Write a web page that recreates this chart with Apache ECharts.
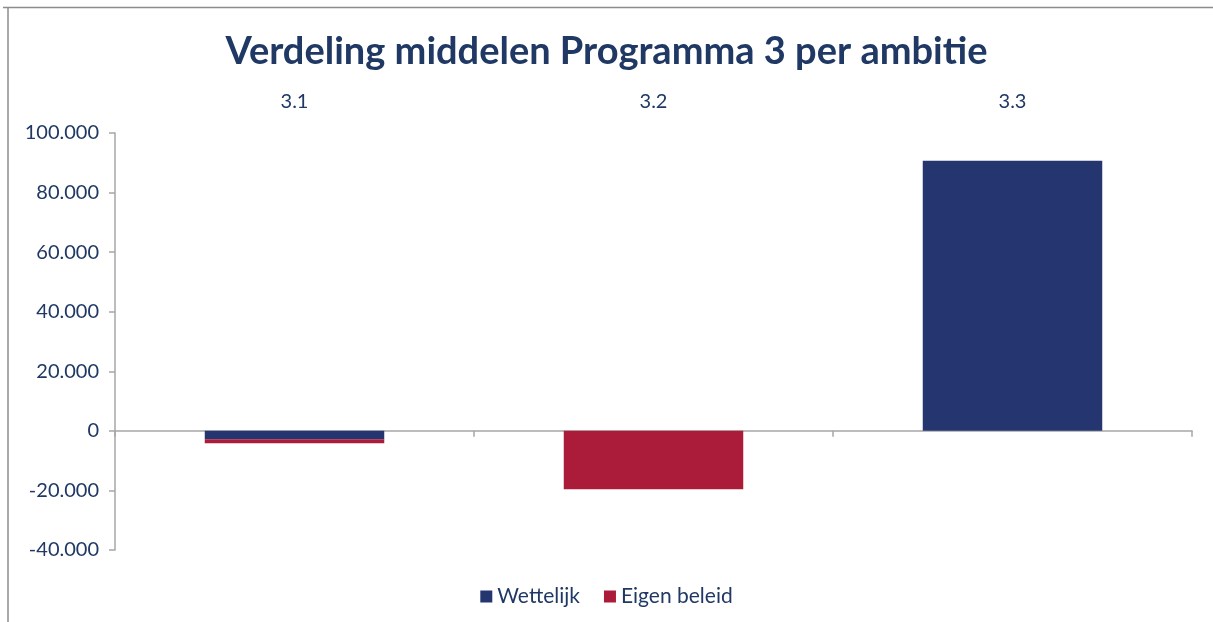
<!DOCTYPE html>
<html>
<head>
<meta charset="utf-8">
<script src="https://cdn.jsdelivr.net/npm/echarts@6/dist/echarts.min.js"></script>
<style>
  html, body { margin: 0; padding: 0; background: #fff; }
  #main { width: 1213px; height: 622px; }
</style>
</head>
<body>
<div id="main"></div>
<script>
// data
const categories = ['3.1', '3.2', '3.3'];
const wettelijk = [-2800, 0, 90700];
const eigenBeleid = [-1400, -19600, 0];
const yTicks = { min: -40000, max: 100000, interval: 20000 };

const navy = '#243570';
const red = '#AB1C3A';
const textColor = '#1F3864';

const chart = echarts.init(document.getElementById('main'));

// getal met punt als duizendtal-scheiding
const fmt = v => {
    const s = Math.abs(v).toString().replace(/\B(?=(\d{3})+(?!\d))/g, '.');
    return (v < 0 ? '-' : '') + s;
};

const option = {
    backgroundColor: '#fff',
    animation: false,
    title: {
        text: 'Verdeling middelen Programma 3 per ambitie',
        left: 'center',
        top: 28,
        textStyle: { fontFamily: 'Lato', fontWeight: 'bold', fontSize: 38, color: textColor }
    },
    legend: {
        bottom: 10,
        left: 'center',
        itemWidth: 12,
        itemHeight: 12,
        itemGap: 24,
        icon: 'rect',
        textStyle: { fontFamily: 'Lato', fontSize: 21, color: textColor },
        data: ['Wettelijk', 'Eigen beleid']
    },
    grid: { left: 115, right: 21, top: 133, bottom: 72 },
    xAxis: [
        {
            type: 'category',
            data: categories,
            position: 'bottom',
            axisLine: { onZero: true, lineStyle: { color: '#a6a6a6', width: 1.5 } },
            axisTick: { show: true, length: 6, lineStyle: { color: '#a6a6a6', width: 1.5 } },
            axisLabel: { show: false }
        },
        {
            type: 'category',
            data: categories,
            position: 'top',
            axisLine: { show: false, onZero: false },
            axisTick: { show: false },
            axisLabel: { fontFamily: 'Lato', fontSize: 20, color: textColor, margin: 21 }
        }
    ],
    yAxis: {
        type: 'value',
        min: yTicks.min,
        max: yTicks.max,
        interval: yTicks.interval,
        axisLine: { show: true, lineStyle: { color: '#a6a6a6', width: 1.5 } },
        axisTick: { show: true, length: 6, lineStyle: { color: '#a6a6a6', width: 1.5 } },
        splitLine: { show: false },
        axisLabel: { fontFamily: 'Lato', fontSize: 20, color: textColor, margin: 16, formatter: fmt }
    },
    series: [
        {
            name: 'Wettelijk',
            type: 'bar',
            stack: 'totaal',
            barWidth: '50%',
            itemStyle: { color: navy },
            data: wettelijk
        },
        {
            name: 'Eigen beleid',
            type: 'bar',
            stack: 'totaal',
            barWidth: '50%',
            itemStyle: { color: red },
            data: eigenBeleid
        }
    ],
    graphic: [
        // rand rond het diagram (alleen boven en links zichtbaar)
        { type: 'line', shape: { x1: 3, y1: 7.5, x2: 1213, y2: 7.5 }, style: { stroke: '#8c8c8c', lineWidth: 1.5 } },
        { type: 'line', shape: { x1: 8, y1: 7, x2: 8, y2: 622 }, style: { stroke: '#8c8c8c', lineWidth: 1.5 } }
    ]
};

option && chart.setOption(option);
</script>
</body>
</html>
